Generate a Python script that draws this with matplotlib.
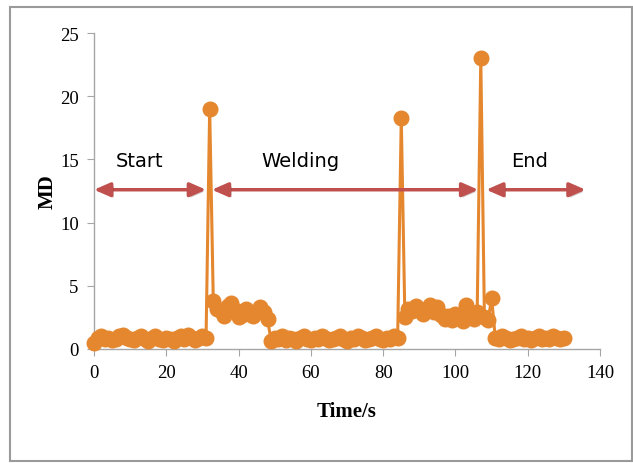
import numpy as np
import matplotlib.pyplot as plt
import matplotlib.patheffects as pe
from matplotlib.patches import Rectangle

# MD readings, one per second (0..130 s)
start_md = [0.5, 0.9, 1.0, 0.8, 0.9, 0.7, 0.8, 1.0, 1.1, 0.9, 0.8, 0.7, 0.9, 1.0, 0.8, 0.6,
            0.9, 1.0, 0.8, 0.7, 0.9, 0.8, 0.6, 0.9, 1.0, 0.8, 1.1, 0.9, 0.7, 0.9, 1.0, 0.9]
spike1 = [19.0]
weld1_md = [3.8, 3.2, 3.0, 2.6, 3.4, 3.6, 3.1, 2.5, 2.7, 3.2, 2.8, 2.6, 3.0, 3.3, 2.9, 2.4]
gap_md = [0.6, 0.9, 0.8, 1.0, 0.7, 0.9, 0.8, 0.6, 0.9, 1.0, 0.8, 0.7, 0.9, 0.8, 1.0, 0.9, 0.7, 0.8,
          0.9, 1.0, 0.8, 0.6, 0.9, 0.8, 1.0, 0.9, 0.7, 0.8, 0.9, 1.0, 0.8, 0.7, 0.9, 0.8, 1.0, 0.9]
spike2 = [18.3]
weld2_md = [2.5, 3.2, 3.0, 3.4, 3.1, 2.8, 3.2, 3.5, 2.9, 3.3, 2.7, 2.4, 2.6, 2.3, 2.8, 2.5,
            2.2, 3.5, 2.6, 2.4, 2.9]
spike3 = [23.0]
tail_md = [2.5, 2.3, 4.0]
end_md = [0.9, 0.8, 1.0, 0.9, 0.7, 0.8, 0.9, 1.0, 0.8, 0.9, 0.7, 0.9, 1.0, 0.8, 0.9, 0.8,
          1.0, 0.9, 0.8, 0.9]

md = start_md + spike1 + weld1_md + gap_md + spike2 + weld2_md + spike3 + tail_md + end_md
time_s = np.arange(len(md))

# phase arrows: (label, x_from, x_to, label_x)
phases = [("Start", 0, 31, 12.7),
          ("Welding", 32.6, 106.3, 57),
          ("End", 108.5, 136, 120.6)]
arrow_y = 12.6

fig = plt.figure(figsize=(6.33, 4.64), dpi=100)
ax = fig.add_axes([0.1485, 0.2457, 0.7995, 0.681])

orange = '#E4872F'
ax.plot(time_s, md, color=orange, lw=2.2, marker='o', ms=10.5, mec=orange, mfc=orange,
        clip_on=False, zorder=3)

red = '#C0504D'
for name, x0, x1, lx in phases:
    ax.annotate('', xy=(x1, arrow_y), xytext=(x0, arrow_y),
                arrowprops=dict(arrowstyle='<|-|>,head_length=0.8,head_width=0.35', color=red,
                                lw=2.5, mutation_scale=12, shrinkA=0, shrinkB=0,
                                path_effects=[pe.SimplePatchShadow(offset=(1.5, -1.5), alpha=0.25),
                                              pe.Normal()]))
    ax.text(lx, 14.9, name, ha='center', va='center', fontsize=14,
            family='DejaVu Sans', color='black')

ax.set_xlim(0, 140)
ax.set_ylim(0, 25)
ax.set_xticks(np.arange(0, 141, 20))
ax.set_yticks(np.arange(0, 26, 5))
for s in ['top', 'right']:
    ax.spines[s].set_visible(False)
for s in ['left', 'bottom']:
    ax.spines[s].set_color('#A6A6A6')
    ax.spines[s].set_linewidth(1.0)
ax.tick_params(direction='out', length=5, color='#A6A6A6', labelsize=13.5, pad=6)
for lbl in ax.get_xticklabels() + ax.get_yticklabels():
    lbl.set_family('Liberation Serif')

ax.set_xlabel('Time/s', family='Liberation Serif', fontweight='bold', fontsize=15, labelpad=14)
ax.set_ylabel('MD', family='Liberation Serif', fontweight='bold', fontsize=15, labelpad=2)

# outer grey frame
fig.patches.append(Rectangle((10 / 633, 2 / 464), 622 / 633, 454 / 464, transform=fig.transFigure,
                             fill=False, edgecolor='#9A9A9A', lw=1.5))

fig.savefig('out.png', dpi=100)
